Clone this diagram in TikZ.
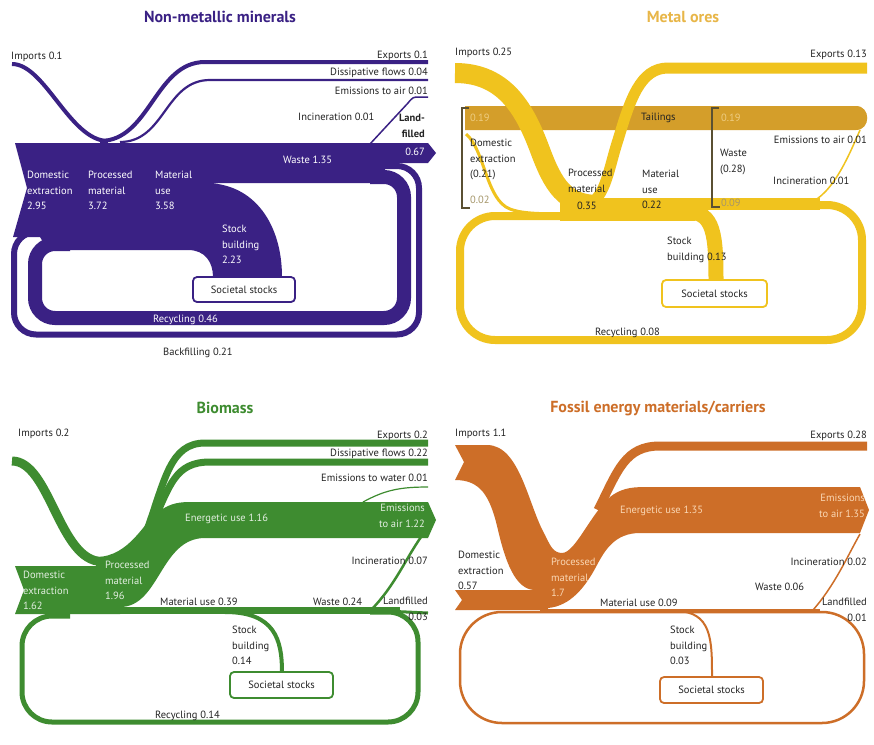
\documentclass[tikz,border=0pt]{standalone}
\usepackage{fontspec}
\setmainfont{PT Sans}
\definecolor{pur}{RGB}{58,33,132}
\definecolor{yel}{RGB}{240,195,30}
\definecolor{tail}{RGB}{212,158,42}
\definecolor{yeltitle}{RGB}{232,182,72}
\definecolor{grn}{RGB}{62,140,48}
\definecolor{org}{RGB}{205,110,40}
\definecolor{txt}{RGB}{35,35,35}
\definecolor{pale}{RGB}{165,150,105}
\definecolor{paletl}{RGB}{238,205,130}
\definecolor{opale}{RGB}{250,215,180}
\definecolor{brk}{RGB}{90,80,50}
\newcommand\lblfont{\fontsize{10.5}{15.5}\selectfont}
\tikzset{
 lbl/.style={font=\lblfont, inner sep=0pt, text=txt},
 wl/.style={lbl, text=white},
 ttl/.style={font=\fontsize{16}{18}\selectfont\bfseries, inner sep=0pt},
 ml/.style={align=left, anchor=north west},
 mr/.style={align=right, anchor=north east},
 box/.style={draw, line width=1.8pt, rounded corners=4pt, fill=white, inner sep=0pt, font=\lblfont, text=txt},
}
\begin{document}
\begin{tikzpicture}[x=1pt,y=-1pt]
\fill[white] (0,0) rectangle (874,744);
\useasboundingbox (0,0) rectangle (874,744);

% ================= Panel 1: Non-metallic minerals
\fill[pur] (15,143) -- (428,143) -- (436,153) -- (428,163) -- (385,163) -- (385,183) -- (205,183) .. controls (255,183) and (282,225) .. (282,277) -- (213,277) .. controls (213,262) and (205,250) .. (188,250) -- (48,250) -- (40,237) -- (13,237) -- (27,188) -- cycle;
\draw[pur, line width=6pt, rounded corners=22pt] (370,166) -- (419,166) -- (419,334.5) -- (14,334.5) -- (14,232) -- (60,232);
\draw[pur, line width=14pt, rounded corners=20pt] (370,177) -- (404,177) -- (404,318) -- (35,318) -- (35,244) -- (70,244);
\draw[pur, line width=4pt] (12,64) .. controls (45,64) and (70,141) .. (108,141);
\draw[pur, line width=4pt] (100,141) .. controls (150,141) and (155,62) .. (205,62) -- (428,62);
\draw[pur, line width=2.2pt] (120,142) .. controls (165,142) and (165,80) .. (210,80) -- (428,80);
\draw[pur, line width=1.5pt] (370,144) -- (408,103) .. controls (413,97) .. (420,97) -- (428,97);
\node[box, draw=pur, minimum width=102pt, minimum height=25pt] (ss1) at (244,289.5) {Societal stocks};

\node[ttl, text=pur] (t1) at (220,17) {Non-metallic minerals};
\node[lbl, anchor=west] (imp1) at (11,57) {Imports 0.1};
\node[lbl, anchor=east] (exp1) at (428,56) {Exports 0.1};
\node[lbl, anchor=east] (dis1) at (428,73) {Dissipative flows 0.04};
\node[lbl, anchor=east] (ema1) at (428,91) {Emissions to air 0.01};
\node[lbl, anchor=west] (inc1) at (298,117) {Incineration 0.01};
\node[lbl, font=\lblfont\bfseries, mr] (lf1) at (425,114) {Land-\\filled};
\node[wl, anchor=east] (lfv1) at (425,152) {0.67};
\node[wl, anchor=west] (was1) at (283,160) {Waste 1.35};
\node[wl, ml] (de1) at (27,171) {Domestic\\extraction\\2.95};
\node[wl, ml] (pm1) at (88,171) {Processed\\material\\3.72};
\node[wl, ml] (mu1) at (155,171) {Material\\use\\3.58};
\node[wl, ml] (sb1) at (222,225) {Stock\\building\\2.23};
\node[wl, anchor=west] (rec1) at (153,320) {Recycling 0.46};
\node[lbl, anchor=west] (bf1) at (163,353) {Backfilling 0.21};

% ================= Panel 2: Metal ores
\fill[tail] (465,106) -- (856,106) .. controls (871,106) and (871,130) .. (856,130) -- (465,130) -- cycle;
\draw[yel, line width=3pt] (466,134) .. controls (485,150) and (486,200) .. (510,209) .. controls (520,213) and (535,214) .. (570,214);
\draw[yel, line width=8pt, rounded corners=35pt] (790,205) -- (862,205) -- (862,340) -- (460,340) -- (460,216) -- (590,216);
\fill[yel] (560,198) rectangle (695,221);
\draw[yel, line width=12pt] (690,204) -- (820,204);
\draw[yel, line width=15pt] (670,212) -- (688,212) .. controls (714,212) and (716,235) .. (716,282);
\draw[yel, line width=1.5pt] (803,205) .. controls (830,200) and (847,160) .. (860,130);
\draw[yel, line width=20pt] (455,73) .. controls (505,73) and (525,110) .. (540,150) .. controls (553,185) and (565,205) .. (598,205);
\draw[yel, line width=11pt] (582,205) .. controls (605,205) and (608,170) .. (618,140) .. controls (630,100) and (640,68) .. (668,68) -- (867,68);
\draw[brk, line width=1.4pt] (469,108) -- (462,108) -- (462,208) -- (470,208);
\draw[brk, line width=1.4pt] (719,108) -- (712,108) -- (712,207) -- (720,207);
\node[box, draw=yel, minimum width=105pt, minimum height=27pt] (ss2) at (714.5,293.5) {Societal stocks};

\node[ttl, text=yeltitle] (t2) at (683,17) {Metal ores};
\node[lbl, anchor=west] (imp2) at (455,53) {Imports 0.25};
\node[lbl, anchor=east] (exp2) at (867,55) {Exports 0.13};
\node[lbl, anchor=west, text=paletl] (tl2a) at (470,118) {0.19};
\node[lbl, anchor=west] (tl2) at (641,118) {Tailings};
\node[lbl, anchor=west, text=paletl] (tl2b) at (721,118) {0.19};
\node[lbl, ml] (de2) at (470,139) {Domestic\\extraction\\(0.21)};
\node[lbl, anchor=west, text=pale] (de2v) at (470,200) {0.02};
\node[lbl, ml] (pm2) at (568,169) {Processed\\material};
\node[lbl, anchor=west] (pm2v) at (577,206) {0.35};
\node[lbl, ml] (mu2) at (642,170) {Material\\use\\0.22};
\node[lbl, ml] (ws2) at (720,149) {Waste\\(0.28)};
\node[lbl, anchor=west, text=pale] (ws2v) at (721,203) {0.09};
\node[lbl, anchor=east] (ema2) at (867,140) {Emissions to air 0.01};
\node[lbl, anchor=west] (inc2) at (773,181) {Incineration 0.01};
\node[lbl, ml] (sb2) at (667,237) {Stock\\building 0.13};
\node[lbl, anchor=west] (rec2) at (595,333) {Recycling 0.08};

% ================= Panel 3: Biomass
\fill[grn] (15,566) -- (96,566) -- (96,557) .. controls (130,557) and (145,520) .. (158,512) .. controls (168,505) and (175,502) .. (190,502) -- (428,502) -- (436,520) -- (428,538) -- (205,538) .. controls (160,538) and (160,607) .. (120,607) -- (120,614) -- (15,614) -- (24,590) -- cycle;
\draw[grn, line width=9pt] (12,461) .. controls (50,461) and (59,561.5) .. (102,561.5);
\draw[grn, line width=7pt] (147,530) .. controls (165,480) and (170,443) .. (205,443) -- (428,443);
\draw[grn, line width=7pt] (152,525) .. controls (170,485) and (175,462) .. (210,462) -- (428,462);
\draw[grn, line width=1.2pt] (363,502) .. controls (385,490) and (400,487) .. (428,487);
\draw[grn, line width=2.5pt] (372,609) .. controls (395,585) and (405,560) .. (421,537);
\draw[grn, line width=7pt] (100,610.5) -- (400,610.5);
\draw[grn, line width=3pt] (385,611) -- (428,613);
\draw[grn, line width=5pt, rounded corners=30pt] (370,612) -- (418,612) -- (418,722) -- (22,722) -- (22,616) -- (70,616);
\draw[grn, line width=4pt] (225,612) .. controls (275,612) and (282,640) .. (282,672);
\node[box, draw=grn, minimum width=103pt, minimum height=26pt] (ss3) at (281.5,685) {Societal stocks};

\node[ttl, text=grn] (t3) at (225,408) {Biomass};
\node[lbl, anchor=west] (imp3) at (18,434) {Imports 0.2};
\node[lbl, anchor=east] (exp3) at (428,436) {Exports 0.2};
\node[lbl, anchor=east] (dis3) at (428,454) {Dissipative flows 0.22};
\node[lbl, anchor=east] (emw3) at (428,478) {Emissions to water 0.01};
\node[wl, anchor=west, text=white!85!grn] (en3) at (185,519) {Energetic use 1.16};
\node[wl, mr, text=white!85!grn] (ema3) at (425,504) {Emissions\\to air 1.22};
\node[lbl, anchor=east] (inc3) at (428,561) {Incineration 0.07};
\node[wl, ml, text=white!85!grn] (de3) at (23,571) {Domestic\\extraction\\1.62};
\node[wl, ml, text=white!85!grn] (pm3) at (105,561) {Processed\\material\\1.96};
\node[lbl, anchor=west] (mu3) at (160,602) {Material use 0.39};
\node[lbl, anchor=west] (ws3) at (313,602) {Waste 0.24};
\node[lbl, mr] (lf3) at (428,597) {Landfilled\\0.03};
\node[lbl, ml] (sb3) at (232,626) {Stock\\building\\0.14};
\node[lbl, anchor=west] (rec3) at (155,716) {Recycling 0.14};

% ================= Panel 4: Fossil
\fill[org] (455,445) -- (487,445) .. controls (520,445) and (528,505) .. (545,535) .. controls (550,545) and (553,553) .. (562,553) .. controls (575,553) and (590,515) .. (610,497) .. controls (620,489) and (630,487) .. (645,487) -- (860,487) -- (869,510) -- (860,533) -- (640,533) .. controls (615,533) and (605,550) .. (597,565) .. controls (585,588) and (570,606) .. (548,608) -- (548,610) -- (455,610) -- (462,600) -- (455,590) -- (535,590) .. controls (515,590) and (505,560) .. (498,530) .. controls (490,495) and (480,480) .. (455,480) -- (464,462) -- cycle;
\draw[org, line width=9pt] (598,510) .. controls (618,470) and (625,446) .. (660,446) -- (867,446);
\draw[org, line width=3pt] (540,610) -- (820,610);
\draw[org, line width=2.5pt, rounded corners=42pt] (460,612) rectangle (864,723);
\draw[org, line width=1.5pt] (813,610) .. controls (835,585) and (848,555) .. (860,534);
\draw[org, line width=2pt] (675,611) .. controls (712,611) and (712,640) .. (712,677);
\node[box, draw=org, minimum width=103pt, minimum height=26pt] (ss4) at (711.5,690) {Societal stocks};

\node[ttl, text=org] (t4) at (658,408) {Fossil energy materials/carriers};
\node[lbl, anchor=west] (imp4) at (455,434) {Imports 1.1};
\node[lbl, anchor=east] (exp4) at (867,436) {Exports 0.28};
\node[lbl, anchor=west, text=opale] (en4) at (620,511) {Energetic use 1.35};
\node[lbl, mr, text=opale] (ema4) at (865,494) {Emissions\\to air 1.35};
\node[lbl, anchor=east] (inc4) at (867,562) {Incineration 0.02};
\node[lbl, ml] (de4) at (458,551) {Domestic\\extraction\\0.57};
\node[lbl, ml, text=opale] (pm4) at (551,558) {Processed\\material\\1.7};
\node[lbl, anchor=west] (ws4) at (755,587) {Waste 0.06};
\node[lbl, anchor=west] (mu4) at (600,603) {Material use 0.09};
\node[lbl, mr] (lf4) at (867,598) {Landfilled\\0.01};
\node[lbl, ml] (sb4) at (670,626) {Stock\\building\\0.03};
\end{tikzpicture}
\end{document}
